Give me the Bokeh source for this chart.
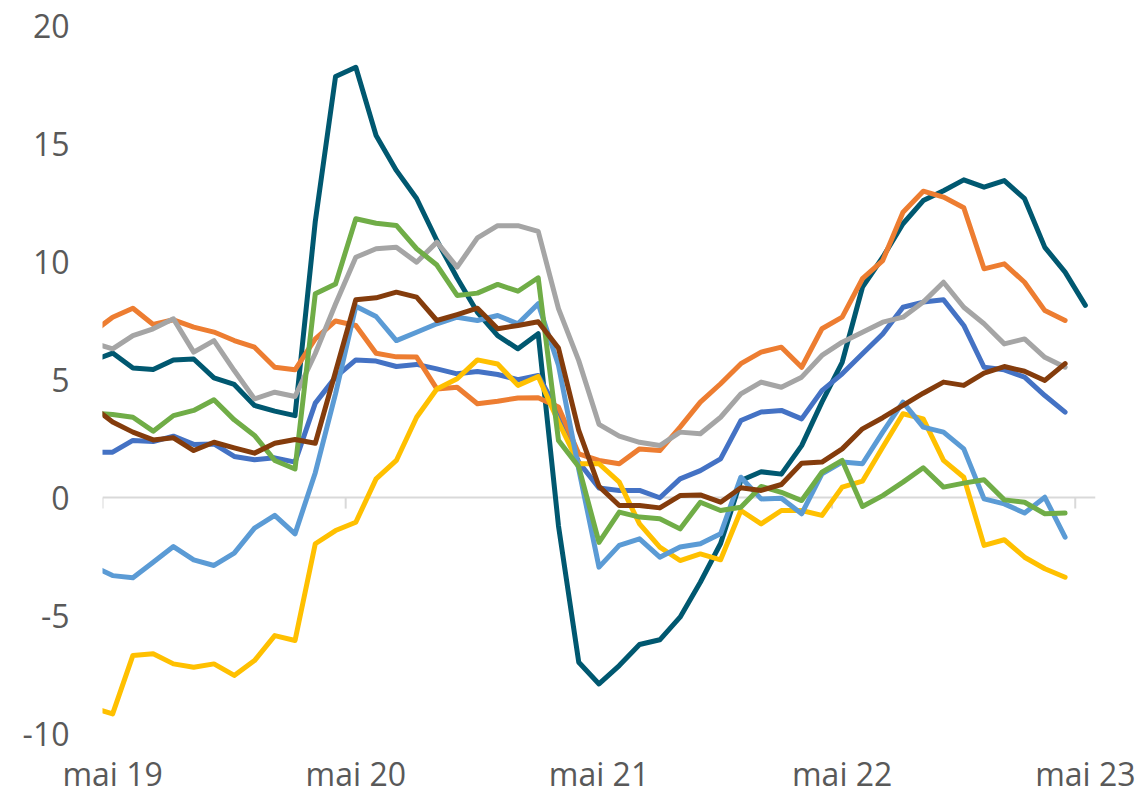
import numpy as np
import pandas as pd
from bokeh.plotting import figure
from bokeh.models import Range1d, FixedTicker, Span
from bokeh.embed import file_html
from bokeh.resources import INLINE

# Monthly observations, April 2019 .. April 2023 (teal series runs to May 2023)
months = pd.period_range("2019-04", "2023-05", freq="M")
base = pd.Period("2019-05", freq="M")

teal = [5.79, 6.12, 5.49, 5.42, 5.83, 5.87, 5.07, 4.79, 3.90, 3.66, 3.47, 11.7,
        17.84, 18.23, 15.34, 13.86, 12.67, 10.89, 9.3, 7.85, 6.86, 6.30, 6.94,
        -1.2, -6.98, -7.90, -7.12, -6.23, -6.03, -5.07, -3.59, -1.95, 0.72,
        1.09, 0.99, 2.20, 4.04, 5.73, 8.91, 10.18, 11.6, 12.58, 13.0, 13.46,
        13.15, 13.43, 12.66, 10.6, 9.55, 8.14]
blue = [1.92, 1.92, 2.42, 2.37, 2.6, 2.25, 2.27, 1.74, 1.60, 1.68, 1.50, 4.0,
        5.1, 5.83, 5.78, 5.55, 5.64, 5.45, 5.24, 5.34, 5.21, 4.99, 5.17, 3.6,
        1.5, 0.4, 0.30, 0.30, -0.01, 0.79, 1.14, 1.64, 3.26, 3.62, 3.69, 3.33,
        4.53, 5.24, 6.09, 6.93, 8.06, 8.28, 8.38, 7.29, 5.52, 5.41, 5.1, 4.32,
        3.62]
orange = [6.99, 7.64, 8.02, 7.33, 7.53, 7.22, 7.01, 6.65, 6.37, 5.52, 5.41,
          6.72, 7.48, 7.29, 6.11, 5.96, 5.95, 4.6, 4.67, 3.97, 4.08, 4.22, 4.23,
          3.83, 1.85, 1.57, 1.43, 2.06, 1.99, 2.98, 4.04, 4.82, 5.67, 6.16,
          6.37, 5.52, 7.15, 7.64, 9.27, 10.04, 12.09, 12.98, 12.73, 12.28, 9.69,
          9.90, 9.12, 7.92, 7.5]
gray = [6.56, 6.30, 6.86, 7.15, 7.57, 6.16, 6.65, 5.38, 4.18, 4.46, 4.28, 6.1,
        8.2, 10.18, 10.54, 10.6, 9.97, 10.82, 9.76, 11.0, 11.52, 11.52, 11.28,
        8.0, 5.8, 3.1, 2.6, 2.34, 2.2, 2.77, 2.7, 3.4, 4.39, 4.89, 4.67, 5.1,
        6.02, 6.58, 7.0, 7.43, 7.64, 8.28, 9.12, 8.06, 7.36, 6.51, 6.72, 5.94,
        5.52]
yellow = [-8.9, -9.17, -6.69, -6.62, -7.05, -7.19, -7.05, -7.54, -6.91, -5.85,
          -6.06, -1.96, -1.40, -1.05, 0.79, 1.57, 3.40, 4.60, 5.03, 5.83, 5.66,
          4.75, 5.13, 3.2, 1.43, 1.43, 0.65, -1.12, -2.1, -2.67, -2.39, -2.64,
          -0.55, -1.12, -0.55, -0.55, -0.76, 0.44, 0.69, 2.13, 3.55, 3.33,
          1.57, 0.86, -2.03, -1.79, -2.53, -3.02, -3.38]
lightblue = [-2.9, -3.31, -3.40, -2.74, -2.08, -2.64, -2.88, -2.36, -1.3,
             -0.76, -1.54, 1.05, 4.4, 8.1, 7.67, 6.65, 7.0, 7.36, 7.64, 7.5,
             7.71, 7.36, 8.21, 5.6, 1.2, -2.95, -2.03, -1.75, -2.53, -2.1,
             -1.96, -1.54, 0.86, -0.06, -0.03, -0.69, 1.0, 1.5, 1.43, 2.77,
             4.04, 2.98, 2.77, 2.06, -0.06, -0.27, -0.66, 0.01, -1.68]
green = [3.57, 3.52, 3.40, 2.81, 3.47, 3.69, 4.14, 3.29, 2.63, 1.57, 1.21, 8.63,
         9.05, 11.81, 11.62, 11.53, 10.54, 9.85, 8.56, 8.66, 9.03, 8.74, 9.31,
         2.42, 1.3, -1.9, -0.62, -0.83, -0.9, -1.33, -0.2, -0.55, -0.41, 0.47,
         0.22, -0.13, 1.07, 1.57, -0.38, 0.08, 0.65, 1.26, 0.44, 0.61, 0.75,
         -0.1, -0.2, -0.69, -0.66]
brown = [3.85, 3.2, 2.77, 2.44, 2.53, 1.99, 2.34, 2.1, 1.88, 2.3, 2.46, 2.3,
         5.33, 8.38, 8.46, 8.70, 8.49, 7.5, 7.75, 8.02, 7.15, 7.29, 7.45, 6.33,
         2.84, 0.47, -0.34, -0.34, -0.44, 0.08, 0.11, -0.2, 0.41, 0.30, 0.55,
         1.45, 1.5, 2.06, 2.91, 3.38, 3.9, 4.42, 4.89, 4.75, 5.27, 5.55, 5.35,
         4.96, 5.67]

tick_months = ["2019-05", "2020-05", "2021-05", "2022-05", "2023-05"]
tick_labels = ["mai 19", "mai 20", "mai 21", "mai 22", "mai 23"]
y_ticks = [-10, -5, 0, 5, 10, 15, 20]
y_labels = ["-10", "-5", "0", "5", "10", "15", "20"]

# month centres
x_all = np.array([(m - base).n for m in months], dtype=float) + 0.5
tick_pos = [float((pd.Period(t, freq="M") - base).n) for t in tick_months]
label_pos = [t + 0.5 for t in tick_pos]

FONT = "Open Sans"
TXT = "#595959"

p = figure(frame_width=993, frame_height=708,
           x_range=Range1d(0, 49), y_range=Range1d(-10, 20),
           output_backend="svg", toolbar_location=None,
           min_border_left=102, min_border_right=43, min_border_top=25,
           min_border_bottom=62)
p.outline_line_color = None
p.grid.visible = False
p.background_fill_color = "white"
p.border_fill_color = "white"

ax = p.xaxis[0]
ax.ticker = FixedTicker(ticks=label_pos)
ax.major_label_overrides = {lp: lab for lp, lab in zip(label_pos, tick_labels)}
ax.axis_line_color = None
ax.major_tick_line_color = None
ax.minor_tick_line_color = None
ax.major_tick_out = 0
ax.major_label_standoff = 18
ax.major_label_text_font = FONT
ax.major_label_text_font_size = "32px"
ax.major_label_text_color = TXT

ay = p.yaxis[0]
ay.ticker = FixedTicker(ticks=y_ticks)
ay.major_label_overrides = {t: lab for t, lab in zip(y_ticks, y_labels)}
ay.axis_line_color = None
ay.major_tick_line_color = None
ay.minor_tick_line_color = None
ay.major_tick_out = 0
ay.major_label_standoff = 33
ay.major_label_text_font = FONT
ay.major_label_text_font_size = "32px"
ay.major_label_text_color = TXT

# zero line with tick marks
p.add_layout(Span(location=0, dimension="width", line_color="#D9D9D9",
                  line_width=2, level="underlay"))
p.segment(x0=tick_pos, x1=tick_pos, y0=[0] * len(tick_pos),
          y1=[-0.47] * len(tick_pos), line_color="#D9D9D9", line_width=2)

series = [
    (teal, "#005870"),
    (blue, "#4472C4"),
    (orange, "#ED7D31"),
    (gray, "#A5A5A5"),
    (yellow, "#FFC000"),
    (lightblue, "#5B9BD5"),
    (green, "#70AD47"),
    (brown, "#843C0C"),
]
for vals, col in series:
    p.line(x_all[:len(vals)], vals, line_color=col, line_width=5,
           line_join="round", line_cap="round")

open("out.html", "w").write(file_html(p, INLINE))
